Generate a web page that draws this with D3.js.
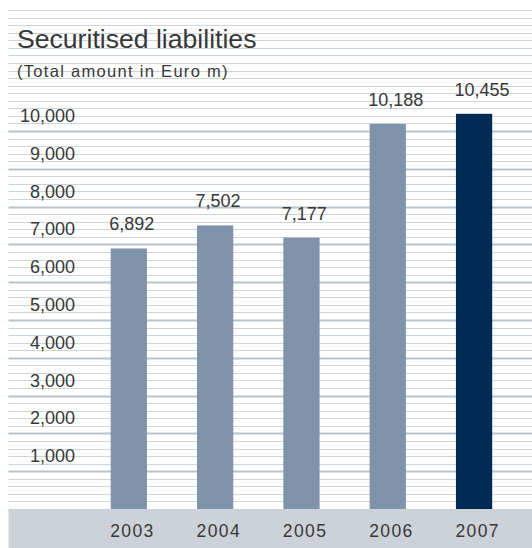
<!DOCTYPE html>
<html>
<head>
<meta charset="utf-8">
<script src="https://cdn.jsdelivr.net/npm/d3@7"></script>
<style>
  html, body { margin: 0; padding: 0; background: #ffffff; }
  svg { display: block; }
  text { font-family: "Liberation Sans", Arial, Helvetica, sans-serif; fill: #383838; }
</style>
</head>
<body>
<svg id="chart" width="532" height="548"></svg>
<script>
// Securitised liabilities, total amount in Euro m
const years = ["2003", "2004", "2005", "2006", "2007"];
const amounts = [6892, 7502, 7177, 10188, 10455];
const yTicks = [1000, 2000, 3000, 4000, 5000, 6000, 7000, 8000, 9000, 10000];
const titleText = "Securitised liabilities";
const subtitleText = "(Total amount in Euro m)";

const W = 532, H = 548;
const left = 8.5;
const baseY = 509;

const svg = d3.select("#chart");

const y = d3.scaleLinear().domain([0, 10000]).range([baseY, 131]);
const x = d3.scaleBand()
  .domain(years)
  .range([110.7, 492.2])
  .paddingInner(0.58)
  .paddingOuter(0);

const fmt = d3.format(",");

// Ruled background: a hairline every 200, heavier at each thousand
const step = 200;
const topValue = y.invert(4);
const ruleValues = d3.range(step, topValue, step);
const thousands = new Set(yTicks);

svg.append("g")
  .selectAll("line")
  .data(ruleValues)
  .join("line")
  .attr("x1", left)
  .attr("x2", W)
  .attr("y1", d => Math.round(y(d)) + 0.5)
  .attr("y2", d => Math.round(y(d)) + 0.5)
  .attr("stroke", d => thousands.has(d) ? "#b9c3cc" : "#cdd4da")
  .attr("stroke-width", d => thousands.has(d) ? 2 : 1);

// Band behind the year labels
svg.append("rect")
  .attr("x", left)
  .attr("y", baseY)
  .attr("width", W - left)
  .attr("height", H - baseY)
  .attr("fill", "#cdd2d9");

// Title block
svg.append("text")
  .attr("x", 17)
  .attr("y", 48)
  .attr("font-size", 26.6)
  .text(titleText);

svg.append("text")
  .attr("x", 17)
  .attr("y", 77)
  .attr("font-size", 16.5)
  .attr("letter-spacing", 1.3)
  .text(subtitleText);

// Value axis labels, set just above each thousand rule
svg.append("g")
  .selectAll("text")
  .data(yTicks)
  .join("text")
  .attr("x", 75)
  .attr("y", d => y(d) - 9)
  .attr("text-anchor", "end")
  .attr("font-size", 18)
  .text(d => fmt(d));

// Bars
svg.append("g")
  .selectAll("rect")
  .data(years.map((yr, i) => ({ yr, v: amounts[i], last: i === years.length - 1 })))
  .join("rect")
  .attr("x", d => x(d.yr))
  .attr("y", d => y(d.v))
  .attr("width", x.bandwidth())
  .attr("height", d => baseY - y(d.v))
  .attr("fill", d => d.last ? "#012a56" : "#7f93aa");

// Value labels above bars
svg.append("g")
  .selectAll("text")
  .data(years.map((yr, i) => ({ yr, v: amounts[i] })))
  .join("text")
  .attr("x", d => x(d.yr) - 1.5)
  .attr("y", d => y(d.v) - 18)
  .attr("font-size", 18)
  .text(d => fmt(d.v));

// Year labels in the band
svg.append("g")
  .selectAll("text")
  .data(years)
  .join("text")
  .attr("x", d => x(d) - 0.5)
  .attr("y", 537)
  .attr("font-size", 17.5)
  .attr("letter-spacing", 1.4)
  .text(d => d);
</script>
</body>
</html>
